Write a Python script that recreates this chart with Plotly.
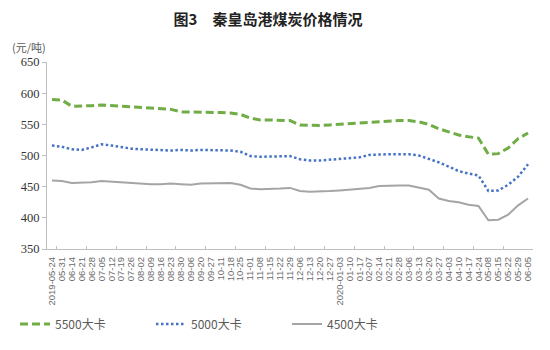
import plotly.graph_objects as go

# Weekly reporting dates (Qinhuangdao port)
dates = [
    "2019-05-24", "05-31", "06-14", "06-21", "06-28", "07-05", "07-12", "07-19",
    "07-26", "08-02", "08-09", "08-16", "08-23", "08-30", "09-06", "09-20",
    "09-27", "10-11", "10-18", "10-25", "11-01", "11-08", "11-15", "11-22",
    "11-29", "12-06", "12-13", "12-20", "12-27", "2020-01-03", "01-10", "01-17",
    "02-07", "02-14", "02-21", "02-28", "03-06", "03-13", "03-20", "03-27",
    "04-03", "04-10", "04-17", "04-24", "05-08", "05-15", "05-22", "05-29",
    "06-05",
]

# Prices, yuan per tonne
price_5500 = [
    590, 589, 579, 579, 580, 581, 580, 578, 577, 577, 575, 574, 574, 570, 570, 570,
    570, 569, 568, 566, 560, 557, 557, 557, 556, 549, 548, 548, 549, 550, 551, 552,
    553, 555, 556, 556, 556, 554, 550, 543, 538, 533, 530, 528, 502, 503, 512, 527,
    536,
]
price_5000 = [
    516, 514, 510, 509, 513, 518, 516, 513, 511, 510, 509, 508, 508, 509, 508, 509,
    509, 509, 508, 506, 499, 498, 498, 499, 499, 494, 492, 492, 493, 494, 495, 497,
    501, 502, 502, 502, 502, 500, 495, 489, 482, 475, 471, 468, 443, 444, 453, 466,
    486,
]
price_4500 = [
    460, 459, 456, 456, 457, 459, 458, 456, 455, 454, 454, 454, 455, 454, 453, 455,
    455, 456, 456, 453, 447, 446, 446, 447, 448, 443, 442, 442, 443, 444, 445, 446,
    448, 451, 452, 452, 452, 449, 445, 431, 427, 425, 421, 419, 396, 397, 405, 420,
    431,
]

series_names = ["5500大卡", "5000大卡", "4500大卡"]
y_ticks = [350, 400, 450, 500, 550, 600, 650]

idx = list(range(len(dates)))

W, H = 550, 350
ML, MR, MT, MB = 47, 17, 62, 96
plot_w = W - ML - MR
plot_h = H - MT - MB

fig = go.Figure()
fig.add_trace(go.Scatter(
    x=idx, y=price_5500, name=series_names[0], mode="lines",
    line=dict(color="#70AD47", width=3, dash="8px,4px"),
))
fig.add_trace(go.Scatter(
    x=idx, y=price_5000, name=series_names[1], mode="lines",
    line=dict(color="#4472C4", width=2.5, dash="2.5px,2.5px"),
))
fig.add_trace(go.Scatter(
    x=idx, y=price_4500, name=series_names[2], mode="lines",
    line=dict(color="#A5A5A5", width=2),
))
# carrier trace for the minor tick axis (every third category boundary)
fig.add_trace(go.Scatter(
    x=[-0.5, len(dates) - 0.5], y=[350, 350], xaxis="x2", mode="lines",
    line=dict(width=0), showlegend=False, hoverinfo="skip",
))

x_range = [-0.5, len(dates) - 0.5]

fig.update_layout(
    width=W, height=H,
    margin=dict(l=ML, r=MR, t=MT, b=MB),
    paper_bgcolor="white", plot_bgcolor="white",
    title=dict(
        text="图3　秦皇岛港煤炭价格情况",
        x=268 / W, xanchor="center", xref="container",
        y=1 - 20 / H, yanchor="middle", yref="container",
        font=dict(family="Noto Sans CJK SC", size=15, color="#222222", weight="bold"),
    ),
    xaxis=dict(
        range=x_range, tickmode="array", tickvals=idx, ticktext=dates,
        tickangle=-90, ticks="", showgrid=False, zeroline=False,
        showline=True, linecolor="#BFBFBF", linewidth=1.2,
        ticklabelstandoff=3,
        tickfont=dict(family="Liberation Sans", size=9.5, color="#6b6b6b"),
    ),
    xaxis2=dict(
        range=x_range, overlaying="x", anchor="y", side="bottom",
        tickmode="array", tickvals=[0.5 + 3 * k for k in range(17)],
        ticks="inside", ticklen=3, tickcolor="#BFBFBF",
        showticklabels=False, showgrid=False, zeroline=False, showline=False,
    ),
    yaxis=dict(
        range=[350, 650], tickmode="array", tickvals=y_ticks,
        ticks="outside", ticklen=4, tickcolor="#BFBFBF",
        showgrid=False, zeroline=False,
        showline=True, linecolor="#BFBFBF", linewidth=1.2,
        tickfont=dict(family="Times New Roman, Liberation Serif, serif", size=12.5,
                      color="#333333"),
    ),
    legend=dict(
        orientation="h", x=(15 - ML) / plot_w, xanchor="left",
        y=-(331 - (H - MB)) / plot_h, yanchor="middle",
        font=dict(family="Noto Sans CJK SC", size=12, color="#595959"),
        entrywidth=91, itemwidth=30,
    ),
    annotations=[dict(
        text="(元/吨)", x=(10 - ML) / plot_w, y=((H - MB) - 47) / plot_h,
        xref="paper", yref="paper",
        xanchor="left", yanchor="middle", showarrow=False,
        font=dict(family="Noto Sans CJK SC", size=11, color="#595959"),
    )],
)

fig.write_html("out.html")
